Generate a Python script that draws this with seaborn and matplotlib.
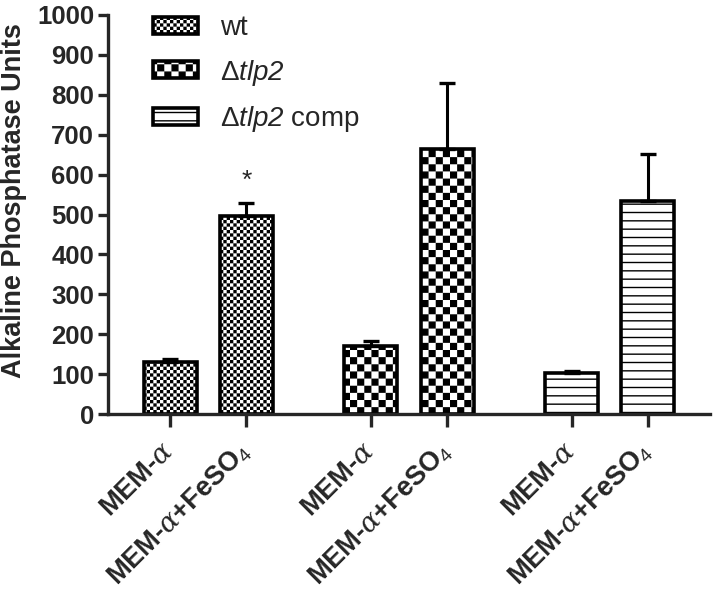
import warnings
import numpy as np
import pandas as pd
import seaborn as sns
import matplotlib as mpl
import matplotlib.pyplot as plt
import matplotlib.hatch as mhatch
from matplotlib.patches import Patch
from matplotlib.path import Path

warnings.filterwarnings('ignore', category=mpl.MatplotlibDeprecationWarning)

# dados
strains = ['wt', 'dtlp2', 'dtlp2 comp']
legend_labels = ['wt', r'$\Delta\mathsf{tlp2}$', r'$\Delta\mathsf{tlp2}$ comp']
media = ['MEM-a', 'MEM-a+FeSO4']
media_labels = [r'MEM-$\alpha$', r'MEM-$\alpha$+FeSO$_4$']
means = [131, 495, 171, 663, 102, 533]
sem = [6, 35, 11, 166, 5, 119]
stars = ['', '*', '', '', '', '']
hatches = ['c', 'k', '--']


# padrao xadrez (nao existe no matplotlib): 'c' pequeno, 'k' grande
class CheckerHatch(mhatch.HatchPatternBase):
    def __init__(self, hatch, density):
        self.n = 30 * hatch.count('c') + 14 * hatch.count('k')
        self.num_vertices = 5 * (self.n * self.n // 2)

    def set_vertices_and_codes(self, vertices, codes):
        step = 1.0 / self.n
        inset = 0.007
        k = 0
        for i in range(self.n):
            for j in range(self.n):
                if (i + j) % 2:
                    continue
                x0, y0 = i * step + inset, j * step + inset
                x1, y1 = (i + 1) * step - inset, (j + 1) * step - inset
                vertices[k:k + 5] = [[x0, y0], [x1, y0], [x1, y1], [x0, y1], [x0, y0]]
                codes[k:k + 5] = [Path.MOVETO, Path.LINETO, Path.LINETO, Path.LINETO, Path.CLOSEPOLY]
                k += 5


mhatch._hatch_types.append(CheckerHatch)

df = pd.DataFrame({
    'strain': np.repeat(strains, 2),
    'medium': media * 3,
    'value': means,
    'sem': sem,
    'star': stars,
})

sns.set_theme(style='ticks')
plt.rcParams['font.family'] = ['Liberation Sans', 'DejaVu Sans']
plt.rcParams['mathtext.fontset'] = 'custom'
plt.rcParams['mathtext.rm'] = 'Liberation Sans'
plt.rcParams['mathtext.it'] = 'DejaVu Serif:italic'
plt.rcParams['mathtext.sf'] = 'Liberation Sans:italic'
plt.rcParams['hatch.linewidth'] = 1.0
plt.rcParams['hatch.color'] = 'black'

fig = plt.figure(figsize=(7.16, 5.94), dpi=100)
ax = fig.add_axes([108 / 716, 1 - 414 / 594, 602 / 716, 399 / 594])

sns.barplot(data=df, x='strain', y='value', hue='medium', order=strains, hue_order=media,
            palette=['white', 'white'], saturation=1, edgecolor='black', linewidth=2.6,
            width=0.76, gap=0.305, errorbar=None, legend=False, ax=ax)

bar_conts = list(ax.containers)
xs, labels = [], []
for h, cont in enumerate(bar_conts):
    for s, bar in enumerate(cont):
        row = df[(df['strain'] == strains[s]) & (df['medium'] == media[h])].iloc[0]
        bar.set_hatch(hatches[s])
        cx = bar.get_x() + bar.get_width() / 2
        ax.errorbar(cx, row['value'], yerr=[[0], [row['sem']]], fmt='none', ecolor='black',
                    elinewidth=2.2, capsize=5.8, capthick=2.4, zorder=1)
        if row['star']:
            ax.text(cx, row['value'] + row['sem'] + 38, row['star'], ha='center', va='baseline',
                    fontsize=19)
        xs.append(cx)
        labels.append(media_labels[h])

order = np.argsort(xs)
ax.set_xticks(np.array(xs)[order], np.array(labels)[order], rotation=45, ha='right', va='center',
              rotation_mode='anchor', fontsize=19.5, fontweight='bold')

ax.set_xlim(-0.5, 2.5)
ax.set_ylim(0, 1000)
ax.set_yticks(range(0, 1001, 100))
plt.setp(ax.get_yticklabels(), fontsize=18.5, fontweight='bold')
ax.set_xlabel('')
ax.set_ylabel('Alkaline Phosphatase Units', fontsize=19.5, fontweight='bold')
ax.yaxis.set_label_coords(-0.135, 0.535)

sns.despine(ax=ax)
for sp in ['left', 'bottom']:
    ax.spines[sp].set_linewidth(2.4)
ax.tick_params(axis='y', width=2.4, length=7, pad=3)
ax.tick_params(axis='x', width=2.4, length=9, pad=15)

handles = [Patch(facecolor='white', edgecolor='black', hatch=hh, linewidth=2.6) for hh in hatches]
ax.legend(handles, legend_labels, loc='upper left', bbox_to_anchor=(0.075, 1.0), frameon=False,
          borderpad=0, borderaxespad=0, fontsize=20, handlelength=1.6, handleheight=0.55,
          handletextpad=0.8, labelspacing=0.6)

fig.savefig('out.png', dpi=100)
